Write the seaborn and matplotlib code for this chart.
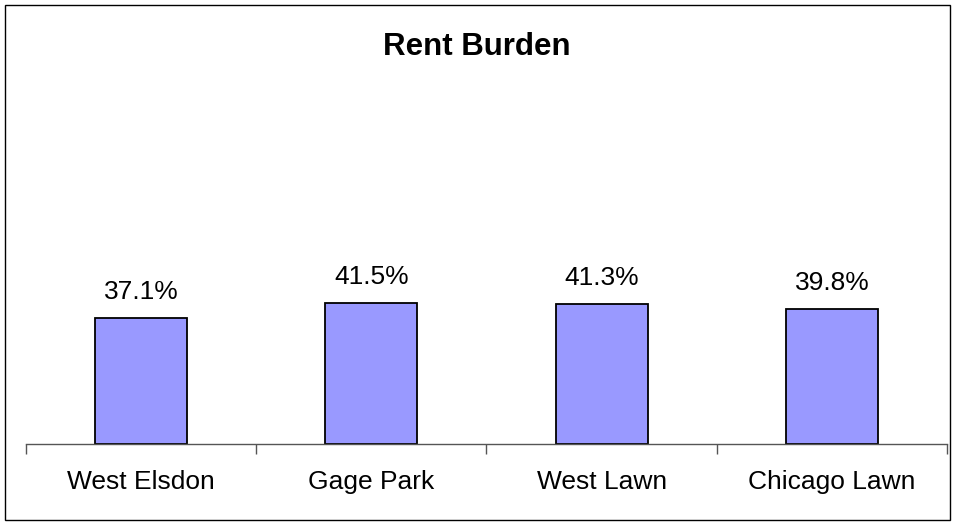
import matplotlib
matplotlib.use("Agg")
import matplotlib.pyplot as plt
import seaborn as sns
import pandas as pd
from matplotlib.patches import Rectangle

areas = ["West Elsdon", "Gage Park", "West Lawn", "Chicago Lawn"]
rent_burden = [37.1, 41.5, 41.3, 39.8]

df = pd.DataFrame({"area": areas, "pct": rent_burden})

sns.set_style("white")
plt.rcParams["font.family"] = ["Liberation Sans", "DejaVu Sans"]
plt.rcParams["text.color"] = "black"
plt.rcParams["xtick.color"] = "black"

fig = plt.figure(figsize=(9.54, 5.25), dpi=100)
ax = fig.add_axes([26 / 954, 81 / 525, 921 / 954, 408 / 525])

sns.barplot(data=df, x="area", y="pct", color="#9999FF", saturation=1,
            edgecolor="black", linewidth=1.3, width=0.4, ax=ax)

ax.bar_label(ax.containers[0], fmt="%.1f%%", padding=10, fontsize=19, color="black")

ax.set_ylim(0, 120)
ax.set_xlim(-0.5, len(areas) - 0.5)
ax.set_xlabel("")
ax.set_ylabel("")
ax.set_yticks([])
for s in ["top", "left", "right"]:
    ax.spines[s].set_visible(False)
ax.spines["bottom"].set_color("#555555")
ax.spines["bottom"].set_linewidth(1)

ax.set_xticks([i - 0.5 for i in range(len(areas) + 1)], minor=True)
ax.tick_params(axis="x", which="minor", bottom=True, length=7, color="#555555",
               width=1, direction="out")
ax.tick_params(axis="x", which="major", length=0, labelsize=19, pad=19,
               labelcolor="black")

fig.text(0.5, 1 - 47 / 525, "Rent Burden", ha="center", va="center",
         fontsize=22.5, fontweight="bold", color="black")

fig.patches.append(Rectangle((5 / 954, 5 / 525), 945 / 954, 515 / 525,
                             transform=fig.transFigure, fill=False,
                             edgecolor="black", linewidth=1))

fig.savefig("out.png", dpi=100)
